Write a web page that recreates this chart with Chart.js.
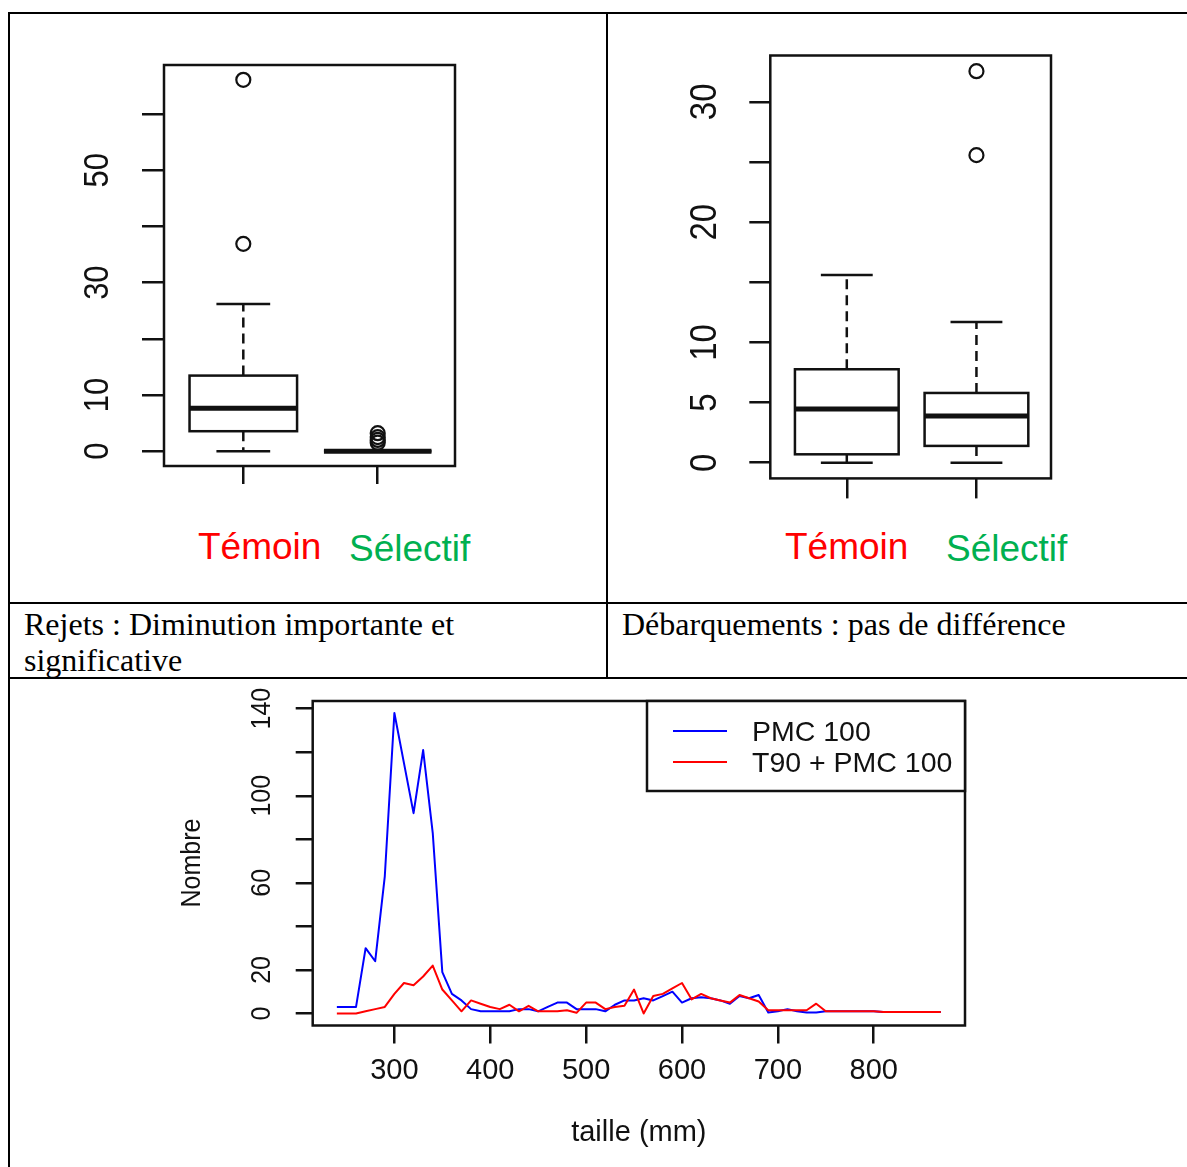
<!DOCTYPE html>
<html>
<head>
<meta charset="utf-8">
<script src="https://cdn.jsdelivr.net/npm/chart.js@4.4.0/dist/chart.umd.min.js"></script>
<style>
  body { margin: 0; background: #fff; }
  #page { position: relative; width: 1187px; height: 1167px; overflow: hidden; background: #fff; }
  .rule { position: absolute; background: #000; }
  canvas { position: absolute; }
  .grp { position: absolute; font-family: "Liberation Sans", Arial, sans-serif; font-size: 37px; line-height: 37px; white-space: nowrap; }
  .red { color: #ff0000; }
  .green { color: #00b050; }
  .cell { position: absolute; font-family: "Liberation Serif", "Times New Roman", serif; font-size: 32px; line-height: 36px; color: #000; white-space: nowrap; }
</style>
</head>
<body>
<div id="page">
  <!-- table lines -->
  <div class="rule" style="left:8px;top:12px;width:1179px;height:2px"></div>
  <div class="rule" style="left:8px;top:12px;width:2px;height:1155px"></div>
  <div class="rule" style="left:606px;top:12px;width:2px;height:667px"></div>
  <div class="rule" style="left:8px;top:602px;width:1179px;height:2px"></div>
  <div class="rule" style="left:8px;top:677px;width:1179px;height:2px"></div>

  <canvas id="rejets" width="580" height="500" style="left:20px;top:20px"></canvas>
  <canvas id="debarq" width="570" height="500" style="left:615px;top:20px"></canvas>
  <canvas id="tailles" width="880" height="480" style="left:150px;top:685px"></canvas>

  <div class="grp red" style="left:198px;top:528px">Témoin</div>
  <div class="grp green" style="left:349px;top:530px">Sélectif</div>
  <div class="grp red" style="left:785px;top:528px">Témoin</div>
  <div class="grp green" style="left:946px;top:530px">Sélectif</div>

  <div class="cell" style="left:24px;top:606px">Rejets : Diminution importante et<br>significative</div>
  <div class="cell" style="left:622px;top:606px">Débarquements : pas de différence</div>
</div>

<script>
var ink = '#111';
var sans = '"Liberation Sans", Arial, Helvetica, sans-serif';
Chart.defaults.font.family = sans;
Chart.defaults.color = ink;

// Rejets : Témoin / Sélectif
var rejMin = [0, 0];
var rejQ1 = [3.55, 0];
var rejMed = [7.65, 0];
var rejQ3 = [13.45, 0];
var rejMax = [26.2, 0];
var rejOut = [[36.9, 66.1], [1.5, 2, 2.5, 3.2]];
var rejTicks = [0, 10, 20, 30, 40, 50, 60];
var rejLabels = [0, 10, 30, 50];

// Débarquements : Témoin / Sélectif
var debMin = [0, 0];
var debQ1 = [0.7, 1.4];
var debMed = [4.46, 3.89];
var debQ3 = [7.77, 5.8];
var debMax = [15.6, 11.69];
var debOut = [[], [25.57, 32.55]];
var debTicks = [0, 5, 10, 15, 20, 25, 30];
var debLabels = [0, 5, 10, 20, 30];

// taille (mm) vs Nombre
var tailles = [240, 250, 260, 270, 280, 290, 300, 310, 320, 330, 340, 350, 360, 370, 380, 390,
               400, 410, 420, 430, 440, 450, 460, 470, 480, 490, 500, 510, 520, 530, 540, 550,
               560, 570, 580, 590, 600, 610, 620, 630, 640, 650, 660, 670, 680, 690, 700, 710,
               720, 730, 740, 750, 760, 770, 780, 790, 800, 810, 820, 830, 840, 850, 860, 870];
var pmc100 = [3, 3, 3, 30, 24, 63, 138, 115, 92, 121, 83, 19, 9, 6, 2, 1,
              1, 1, 1, 2, 2, 1, 3, 5, 5, 2, 2, 2, 1, 4, 6, 6,
              7, 6, 8, 10, 5, 7, 7.5, 7, 6, 4.5, 8, 7, 8.5, 0.5, 1, 2,
              1, 0.5, 0.5, 1, 1, 1, 1, 1, 1, 0.7, 0.7, 0.7, 0.7, 0.7, 0.7, 0.7];
var t90pmc100 = [0, 0, 0, 1, 2, 3, 9, 14, 13, 17, 22, 11, 6, 1, 6, 4.5,
                 3, 2, 4, 1, 3.5, 1, 1, 1, 1.5, 0.3, 5, 5, 2, 3, 3.5, 11,
                 0, 8, 9, 11.5, 14, 6.5, 9, 7, 6, 5, 8.5, 7, 5.5, 1.5, 1.5, 1.5,
                 1.5, 1.5, 4.5, 1, 1, 1, 1, 1, 1, 0.7, 0.7, 0.7, 0.7, 0.7, 0.7, 0.7];
var xTicks = [300, 400, 500, 600, 700, 800];
var yTicks = [0, 20, 40, 60, 80, 100, 120, 140];
var yLabels = [0, 20, 60, 100, 140];

// R style axis range: data range extended by 4 %
function rRange(vals) {
    var lo = Math.min.apply(null, vals), hi = Math.max.apply(null, vals);
    var d = (hi - lo) * 0.04;
    return [lo - d, hi + d];
}

function seg(ctx, x1, y1, x2, y2) {
    ctx.beginPath();
    ctx.moveTo(x1, y1);
    ctx.lineTo(x2, y2);
    ctx.stroke();
}

// box + whiskers + median, drawn through the chart scales
function boxPlugin(st) {
    return {
        id: 'boxes',
        beforeDatasetsDraw: function (chart) {
            var ctx = chart.ctx, x = chart.scales.x, y = chart.scales.y;
            ctx.save();
            ctx.strokeStyle = ink;
            for (var i = 0; i < st.med.length; i++) {
                var cx = x.getPixelForValue(i + 1);
                var hw = x.getPixelForValue(i + 1.4) - cx; // boxwex 0.8
                var yq1 = y.getPixelForValue(st.q1[i]), yq3 = y.getPixelForValue(st.q3[i]);
                var ylo = y.getPixelForValue(st.min[i]), yhi = y.getPixelForValue(st.max[i]);
                var ym = y.getPixelForValue(st.med[i]);
                ctx.lineWidth = 2.5;
                ctx.setLineDash([10, 6]);
                seg(ctx, cx, yq3, cx, yhi);
                seg(ctx, cx, yq1, cx, ylo);
                ctx.setLineDash([]);
                seg(ctx, cx - hw / 2, yhi, cx + hw / 2, yhi);
                seg(ctx, cx - hw / 2, ylo, cx + hw / 2, ylo);
                ctx.fillStyle = '#fff';
                ctx.fillRect(cx - hw, yq3, 2 * hw, yq1 - yq3);
                ctx.strokeRect(cx - hw, yq3, 2 * hw, yq1 - yq3);
                ctx.lineWidth = 5;
                seg(ctx, cx - hw, ym, cx + hw, ym);
            }
            ctx.restore();
        }
    };
}

// plot box + rotated y tick labels (+ optional rotated y title)
function framePlugin(f) {
    return {
        id: 'frame',
        afterDraw: function (chart) {
            var ctx = chart.ctx, a = chart.chartArea, y = chart.scales.y;
            ctx.save();
            ctx.strokeStyle = ink;
            ctx.lineWidth = 2.5;
            ctx.strokeRect(a.left, a.top, a.right - a.left, a.bottom - a.top);
            ctx.fillStyle = ink;
            ctx.textAlign = 'center';
            ctx.textBaseline = 'middle';
            ctx.font = f.size + 'px ' + sans;
            f.labels.forEach(function (v) {
                ctx.save();
                ctx.translate(f.x, y.getPixelForValue(v));
                ctx.rotate(-Math.PI / 2);
                ctx.scale(1, f.stretch);
                ctx.fillText(String(v), 0, 0);
                ctx.restore();
            });
            if (f.title) {
                ctx.save();
                ctx.translate(f.title.x, f.title.y);
                ctx.rotate(-Math.PI / 2);
                ctx.scale(1, f.stretch);
                ctx.fillText(f.title.text, 0, 0);
                ctx.restore();
            }
            ctx.restore();
        }
    };
}

var legendBox = {
    id: 'legendBox',
    afterDraw: function (chart) {
        var ctx = chart.ctx, a = chart.chartArea;
        var w = 318, h = 90, left = a.right - w, top = a.top;
        ctx.save();
        ctx.fillStyle = '#fff';
        ctx.fillRect(left, top, w, h);
        ctx.strokeStyle = ink;
        ctx.lineWidth = 2.5;
        ctx.strokeRect(left, top, w, h);
        ctx.font = '28.5px ' + sans;
        ctx.textBaseline = 'middle';
        ctx.textAlign = 'left';
        chart.data.datasets.forEach(function (ds, i) {
            var yy = top + 30 + i * 31;
            ctx.strokeStyle = ds.borderColor;
            ctx.lineWidth = 2;
            seg(ctx, left + 26, yy, left + 80, yy);
            ctx.fillStyle = ink;
            ctx.fillText(ds.label, left + 105, yy + 2);
        });
        ctx.restore();
    }
};

function boxChart(id, st, out, ticks, labels, lay) {
    var all = st.min.concat(st.max);
    out.forEach(function (o) { all = all.concat(o); });
    var r = rRange(all);
    var pts = [];
    out.forEach(function (o, i) {
        o.forEach(function (v) { pts.push({ x: i + 1, y: v }); });
    });
    return new Chart(document.getElementById(id), {
        type: 'scatter',
        data: {
            datasets: [{
                data: pts,
                pointStyle: 'circle',
                pointRadius: 7,
                borderWidth: 2.2,
                borderColor: ink,
                backgroundColor: 'rgba(0,0,0,0)'
            }]
        },
        options: {
            responsive: false,
            animation: false,
            events: [],
            layout: { padding: { top: lay.top, right: lay.right, left: 0, bottom: 0 } },
            plugins: { legend: { display: false }, tooltip: { enabled: false } },
            scales: {
                x: {
                    type: 'linear', min: 0.41, max: 2.575,
                    afterBuildTicks: function (s) { s.ticks = [1, 2].map(function (v) { return { value: v }; }); },
                    afterFit: function (s) { s.height = lay.xh; },
                    ticks: { display: false },
                    grid: { drawOnChartArea: false, color: ink, lineWidth: 2.5, tickLength: lay.xt },
                    border: { display: false }
                },
                y: {
                    type: 'linear', min: r[0], max: r[1],
                    afterBuildTicks: function (s) { s.ticks = ticks.map(function (v) { return { value: v }; }); },
                    afterFit: function (s) { s.width = lay.yw; },
                    ticks: { display: false },
                    grid: { drawOnChartArea: false, color: ink, lineWidth: 2.5, tickLength: lay.yt },
                    border: { display: false }
                }
            }
        },
        plugins: [boxPlugin(st), framePlugin({ labels: labels, x: lay.lx, size: lay.fs, stretch: lay.st })]
    });
}

boxChart('rejets',
    { min: rejMin, q1: rejQ1, med: rejMed, q3: rejQ3, max: rejMax },
    rejOut, rejTicks, rejLabels,
    { top: 45, right: 145, xh: 54, yw: 144, xt: 18, yt: 22, lx: 78, fs: 31, st: 1.12 });

boxChart('debarq',
    { min: debMin, q1: debQ1, med: debMed, q3: debQ3, max: debMax },
    debOut, debTicks, debLabels,
    { top: 35.5, right: 134, xh: 41.6, yw: 155.3, xt: 20, yt: 21, lx: 91, fs: 33, st: 1.14 });

var xr = rRange(tailles);
var yr = rRange(pmc100.concat(t90pmc100));

new Chart(document.getElementById('tailles'), {
    type: 'line',
    data: {
        datasets: [{
            label: 'PMC 100',
            data: tailles.map(function (t, i) { return { x: t, y: pmc100[i] }; }),
            borderColor: '#0000ff',
            borderWidth: 2,
            pointRadius: 0,
            borderJoinStyle: 'round',
            order: 1
        }, {
            label: 'T90 + PMC 100',
            data: tailles.map(function (t, i) { return { x: t, y: t90pmc100[i] }; }),
            borderColor: '#ff0000',
            borderWidth: 2,
            pointRadius: 0,
            borderJoinStyle: 'round',
            order: 0
        }]
    },
    options: {
        responsive: false,
        animation: false,
        events: [],
        layout: { padding: { top: 16, right: 65, left: 0, bottom: 0 } },
        plugins: { legend: { display: false }, tooltip: { enabled: false } },
        scales: {
            x: {
                type: 'linear', min: xr[0], max: xr[1],
                afterBuildTicks: function (s) { s.ticks = xTicks.map(function (v) { return { value: v }; }); },
                afterFit: function (s) { s.height = 139.5; },
                ticks: { font: { size: 29 }, color: ink, padding: 10, maxRotation: 0, autoSkip: false },
                grid: { drawOnChartArea: false, color: ink, lineWidth: 2.5, tickLength: 18 },
                border: { display: false },
                title: { display: true, text: 'taille (mm)', color: ink, font: { size: 29 }, padding: { top: 0, bottom: 15 } }
            },
            y: {
                type: 'linear', min: yr[0], max: yr[1],
                afterBuildTicks: function (s) { s.ticks = yTicks.map(function (v) { return { value: v }; }); },
                afterFit: function (s) { s.width = 162.7; },
                ticks: { display: false },
                grid: { drawOnChartArea: false, color: ink, lineWidth: 2.5, tickLength: 17 },
                border: { display: false }
            }
        }
    },
    plugins: [framePlugin({ labels: yLabels, x: 112, size: 25, stretch: 1.12, title: { text: 'Nombre', x: 42, y: 178 } }), legendBox]
});
</script>
</body>
</html>
